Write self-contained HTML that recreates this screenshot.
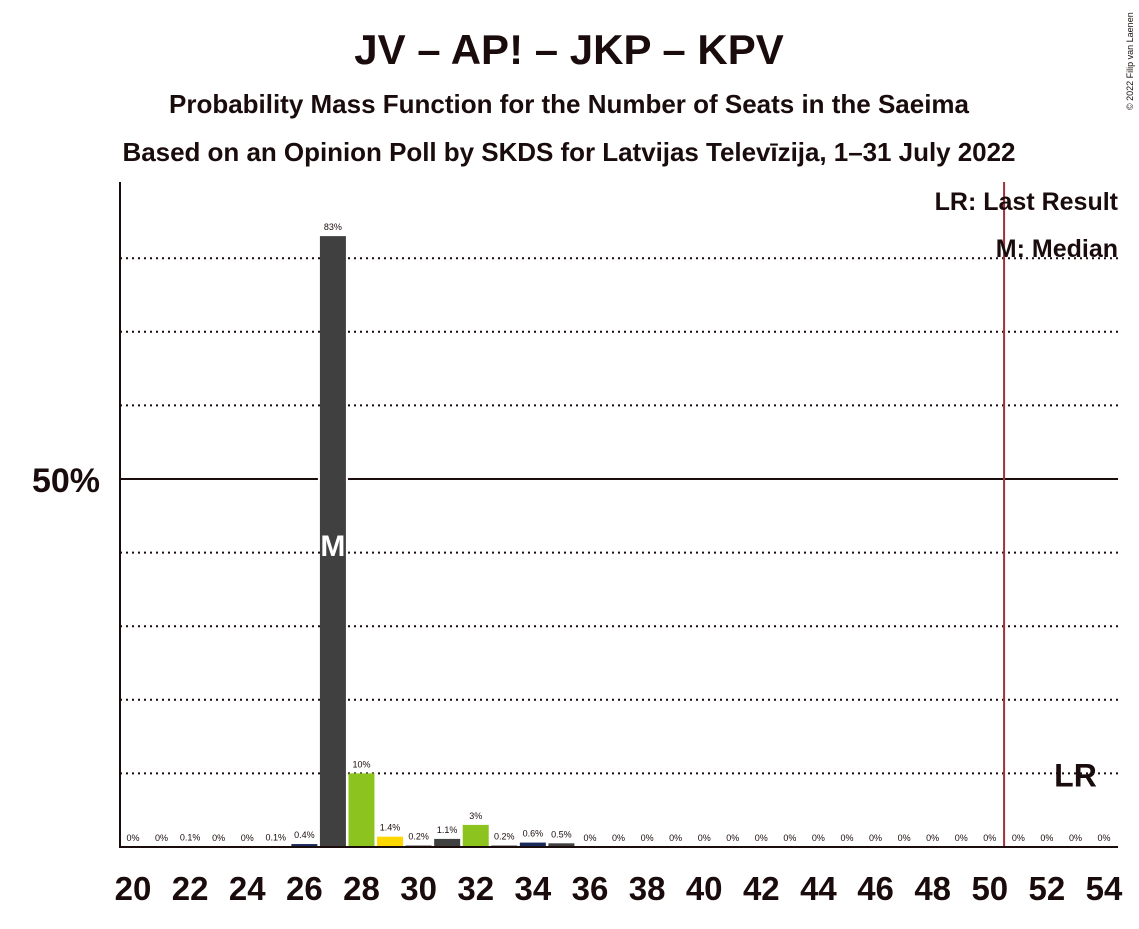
<!DOCTYPE html>
<html><head><meta charset="utf-8"><style>
body{margin:0;background:#fff;}
svg text{font-family:"Liberation Sans",sans-serif;fill:#1a0c0c;}
</style></head><body>
<svg width="1139" height="924">
<text x="569" y="64" text-anchor="middle" font-size="42" font-weight="bold">JV – AP! – JKP – KPV</text>
<text x="569" y="113" text-anchor="middle" font-size="26" font-weight="bold" textLength="800">Probability Mass Function for the Number of Seats in the Saeima</text>
<text x="569" y="161" text-anchor="middle" font-size="26" font-weight="bold" textLength="893">Based on an Opinion Poll by SKDS for Latvijas Televīzija, 1–31 July 2022</text>
<text x="1133" y="110" font-size="9" transform="rotate(-90 1133 110)">© 2022 Filip van Laenen</text>
<g id="grid"></g>
<g id="bars"></g>
<line x1="120" y1="182" x2="120" y2="848" stroke="#1a0c0c" stroke-width="2"/>
<line x1="119" y1="847" x2="1118" y2="847" stroke="#1a0c0c" stroke-width="2"/>
<text x="100" y="492" text-anchor="end" font-size="34" font-weight="bold">50%</text>
<text x="1118" y="210" text-anchor="end" font-size="25" font-weight="bold">LR: Last Result</text>
<text x="1118" y="257" text-anchor="end" font-size="25" font-weight="bold">M: Median</text>
<g id="xt"></g>
</svg>
<script>
const seats=[20,21,22,23,24,25,26,27,28,29,30,31,32,33,34,35,36,37,38,39,40,41,42,43,44,45,46,47,48,49,50,51,52,53,54];
const probs=[0,0,0.1,0,0,0.1,0.4,83,10,1.4,0.2,1.1,3,0.2,0.6,0.5,0,0,0,0,0,0,0,0,0,0,0,0,0,0,0,0,0,0,0];
const labels=["0%","0%","0.1%","0%","0%","0.1%","0.4%","83%","10%","1.4%","0.2%","1.1%","3%","0.2%","0.6%","0.5%","0%","0%","0%","0%","0%","0%","0%","0%","0%","0%","0%","0%","0%","0%","0%","0%","0%","0%","0%"];
const colors=["#404040","#404040","#404040","#404040","#404040","#404040","#1a2a5a","#404040","#8cc31f","#ffd700","#404040","#404040","#8cc31f","#404040","#1a2a5a","#404040","#404040","#404040","#404040","#404040","#404040","#404040","#404040","#404040","#404040","#404040","#404040","#404040","#404040","#404040","#404040","#404040","#404040","#404040","#404040"];
const gridVals=[10,20,30,40,60,70,80];
const median=27, lastResult=50.5, lrLabelSeat=53;
const NS="http://www.w3.org/2000/svg";
const X=s=>133+(s-20)*28.56;
const Y=v=>847-v*7.36;
function mk(t,a,p){const e=document.createElementNS(NS,t);for(const k in a)e.setAttribute(k,a[k]);p.appendChild(e);return e;}
const g=document.getElementById('grid');
gridVals.forEach(v=>{const l=mk('line',{x1:120,x2:1118,y1:Y(v),y2:Y(v),stroke:'#1a0c0c','stroke-width':2,'stroke-dasharray':'2,4'},g);

});
const l50=mk('line',{x1:120,x2:1118,y1:Y(50),y2:Y(50),stroke:'#1a0c0c','stroke-width':2},g);


const b=document.getElementById('bars');
seats.forEach((s,i)=>{const p=probs[i];
if(p>0){const r=mk('rect',{x:X(s)-13,y:Y(p),width:26,height:847-Y(p),fill:colors[i]},b);


if(s===median){mk('rect',{x:X(s)-15,y:Y(50)-2,width:2,height:4,fill:'#fff'},b);mk('rect',{x:X(s)+13,y:Y(50)-2,width:2,height:4,fill:'#fff'},b);}}
const t=mk('text',{x:X(s),y:Math.min(Y(p),847)-6,'text-anchor':'middle','font-size':9},b);t.textContent=labels[i];

});
const mt=mk('text',{x:X(median),y:Y(41)+11,'text-anchor':'middle','font-size':30,'font-weight':'bold',fill:'#fff',style:'fill:#fff'},b);mt.textContent='M';


const lr=mk('line',{x1:X(lastResult),x2:X(lastResult),y1:182,y2:847,stroke:'#a0303a','stroke-width':2},b);


const lt=mk('text',{x:X(lrLabelSeat),y:Y(10)+13,'text-anchor':'middle','font-size':32,'font-weight':'bold'},b);lt.textContent='LR';


const xt=document.getElementById('xt');
seats.filter(s=>s%2===0).forEach(s=>{const t=mk('text',{x:X(s),y:900,'text-anchor':'middle','font-size':33,'font-weight':'bold'},xt);t.textContent=s;

});
</script>
</body></html>
